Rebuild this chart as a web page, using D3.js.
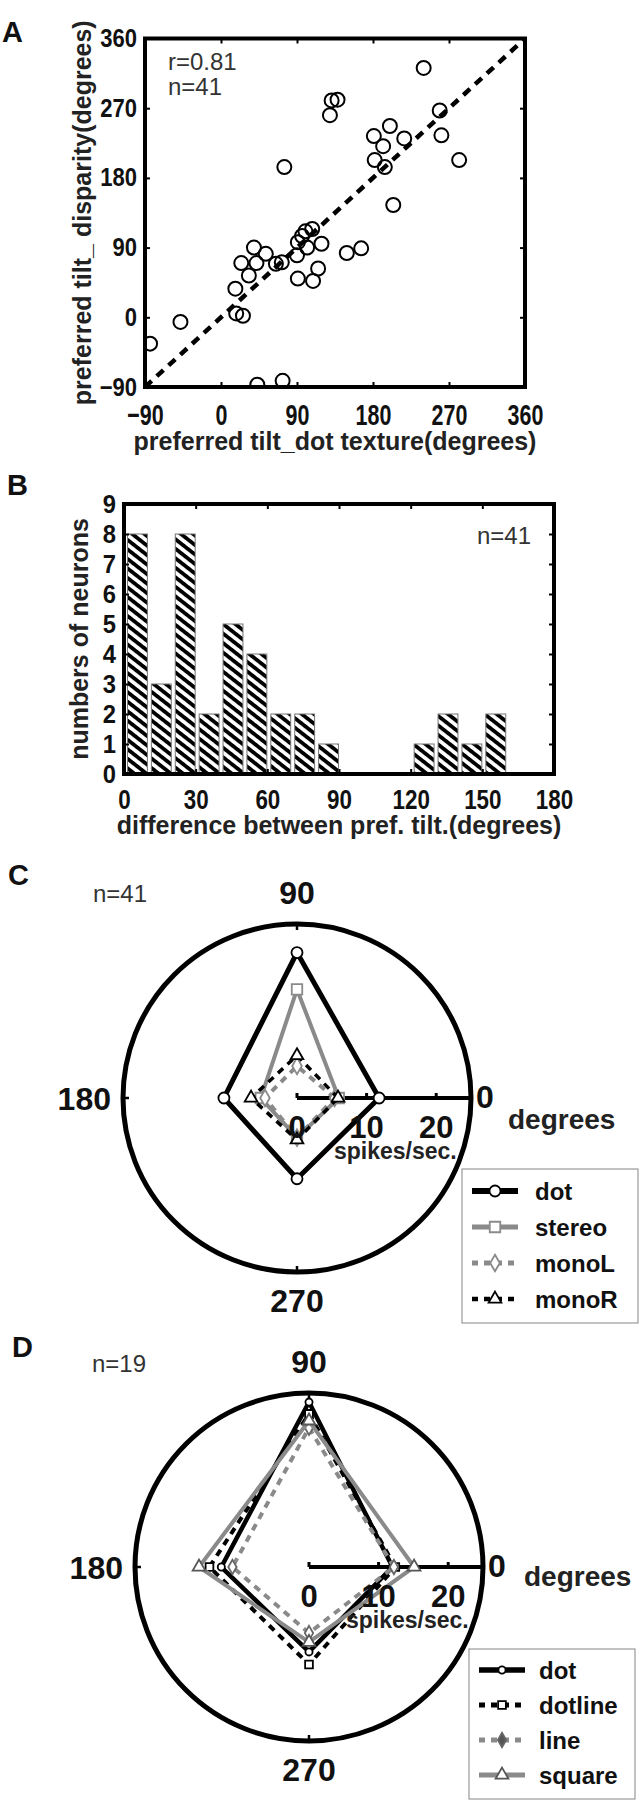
<!DOCTYPE html>
<html lang="en">
<head>
<meta charset="utf-8" />
<title>Preferred tilt figure</title>
<script src="https://cdn.jsdelivr.net/npm/d3@7"></script>
<style>
  body { margin: 0; background: #fff; }
  text { font-family: "Liberation Sans", Arial, sans-serif; }
</style>
</head>
<body>
<script>
// panel A: preferred tilt, dot texture (x) vs disparity (y), degrees
var tiltDot  = [-84, -48, 17, 18, 26, 24, 33, 39, 42, 53, 65, 72, 75, 43, 73,
                91, 90, 91, 100, 102, 108, 119, 115, 109, 96, 129, 131, 138, 149, 166,
                181, 182, 192, 194, 200, 204, 217, 240, 259, 261, 282];
var tiltDisp = [-34, -6, 37, 5, 2, 70, 54, 90, 70, 82, 69, 71, 194, -87, -82,
                97, 80, 50, 111, 90, 114, 95, 63, 47, 105, 261, 280, 281, 83, 89,
                234, 203, 221, 194, 247, 145, 231, 322, 267, 235, 203];
var tiltTicks = [-90, 0, 90, 180, 270, 360];

// panel B: histogram of difference between preferred tilts
var diffBins   = [0, 10, 20, 30, 40, 50, 60, 70, 80, 90, 100, 110, 120, 130, 140, 150, 160, 170];
var diffCounts = [8, 3, 8, 2, 5, 4, 2, 2, 1, 0, 0, 0, 1, 2, 1, 2, 0, 0];
var countTicks = [0, 1, 2, 3, 4, 5, 6, 7, 8, 9];
var diffTicks  = [0, 30, 60, 90, 120, 150, 180];

// panels C and D: mean response (spikes/sec) at each tilt
var polarAngles = [0, 90, 180, 270];
var radialTicks = [0, 10, 20];

var cNames  = ["dot", "stereo", "monoL", "monoR"];
var cDot    = [11.8, 20.9, 10.5, 11.6];
var cStereo = [6.0, 15.6, 5.2, 5.7];
var cMonoL  = [5.4, 4.6, 4.6, 5.7];
var cMonoR  = [5.9, 6.1, 6.6, 6.0];

var dNames   = ["dot", "dotline", "line", "square"];
var dDot     = [12.0, 23.7, 12.6, 12.2];
var dDotline = [12.4, 22.0, 14.3, 14.0];
var dLine    = [12.2, 20.0, 11.0, 9.5];
var dSquare  = [15.1, 21.0, 15.8, 10.8];

var w = 640, h = 1800;
var FONT = '"Liberation Sans", Arial, sans-serif';

var svg = d3.select("body").append("svg")
  .attr("width", w)
  .attr("height", h);

// hatch for the histogram bars
var defs = svg.append("defs");
defs.append("pattern")
  .attr("id", "hatch")
  .attr("patternUnits", "userSpaceOnUse")
  .attr("width", 7.5)
  .attr("height", 7.5)
  .attr("patternTransform", "rotate(38)")
  .append("rect")
  .attr("width", 7.5)
  .attr("height", 3.8)
  .attr("fill", "#000");

// squeeze text horizontally (the figure uses narrow bold digits)
function squeeze(sel, f) {
  sel.each(function () {
    var len = this.getComputedTextLength();
    d3.select(this)
      .attr("textLength", len * f)
      .attr("lengthAdjust", "spacingAndGlyphs");
  });
}

function styleAxis(g, size) {
  g.select(".domain").remove();
  g.selectAll(".tick line").attr("stroke", "#000").attr("stroke-width", 2);
  g.selectAll("text")
    .attr("font-family", FONT)
    .attr("font-weight", "bold")
    .attr("font-size", size)
    .attr("fill", "#111");
}

function label(x, y, txt, size, weight, anchor, fill) {
  return svg.append("text")
    .attr("x", x)
    .attr("y", y)
    .attr("font-size", size)
    .attr("font-weight", weight || "bold")
    .attr("text-anchor", anchor || "start")
    .attr("fill", fill || "#111")
    .text(txt);
}

// ---------------- A ----------------
var ax = d3.scaleLinear().domain([-90, 360]).range([145, 525]);
var ay = d3.scaleLinear().domain([-90, 360]).range([387, 38.5]);

svg.append("clipPath").attr("id", "clipA")
  .append("rect")
  .attr("x", ax(-90)).attr("y", ay(360))
  .attr("width", ax(360) - ax(-90)).attr("height", ay(-90) - ay(360));

var gA = svg.append("g").attr("clip-path", "url(#clipA)");

gA.append("line")
  .attr("x1", ax(-90)).attr("y1", ay(-90))
  .attr("x2", ax(360)).attr("y2", ay(360))
  .attr("stroke", "#000")
  .attr("stroke-width", 4.5)
  .attr("stroke-dasharray", "9,7");

gA.selectAll("circle")
  .data(tiltDot)
  .enter()
  .append("circle")
  .attr("cx", function (d) { return ax(d); })
  .attr("cy", function (d, i) { return ay(tiltDisp[i]); })
  .attr("r", 7)
  .attr("fill", "none")
  .attr("stroke", "#000")
  .attr("stroke-width", 2);

var axL = svg.append("g").attr("transform", "translate(" + ax(-90) + ",0)")
  .call(d3.axisLeft(ay).tickValues(tiltTicks).tickSizeInner(-5).tickSizeOuter(0).tickPadding(8));
styleAxis(axL, 25);
squeeze(axL.selectAll("text"), 0.88);

var axB = svg.append("g").attr("transform", "translate(0," + ay(-90) + ")")
  .call(d3.axisBottom(ax).tickValues(tiltTicks).tickSizeInner(-5).tickSizeOuter(0).tickPadding(17));
styleAxis(axB, 29);
squeeze(axB.selectAll("text"), 0.74);

svg.append("g").attr("transform", "translate(0," + ay(360) + ")")
  .call(d3.axisTop(ax).tickValues(tiltTicks).tickSizeInner(-5).tickSizeOuter(0).tickFormat(""))
  .call(styleAxis, 10);
svg.append("g").attr("transform", "translate(" + ax(360) + ",0)")
  .call(d3.axisRight(ay).tickValues(tiltTicks).tickSizeInner(-5).tickSizeOuter(0).tickFormat(""))
  .call(styleAxis, 10);

svg.append("rect")
  .attr("x", ax(-90)).attr("y", ay(360))
  .attr("width", ax(360) - ax(-90)).attr("height", ay(-90) - ay(360))
  .attr("fill", "none").attr("stroke", "#000").attr("stroke-width", 4);

label(2, 42, "A", 29);
label(168, 70, "r=0.81", 24, "normal", "start", "#333");
label(168, 95, "n=41", 24, "normal", "start", "#333");
label((ax(-90) + ax(360)) / 2, 450, "preferred tilt_dot texture(degrees)", 25, "bold", "middle", "#222");
label(0, 0, "preferred tilt_ disparity(degrees)", 25, "bold", "middle", "#222")
  .attr("transform", "translate(91," + (ay(-90) + ay(360)) / 2 + ") rotate(-90)");

// ---------------- B ----------------
var bx = d3.scaleLinear().domain([0, 180]).range([124, 554]);
var by = d3.scaleLinear().domain([0, 9]).range([774, 504]);
var binW = bx(10) - bx(0);

svg.append("g").selectAll("rect")
  .data(diffCounts)
  .enter()
  .append("rect")
  .attr("x", function (d, i) { return bx(diffBins[i]) + 3.5; })
  .attr("y", function (d) { return by(d); })
  .attr("width", binW - 4)
  .attr("height", function (d) { return by(0) - by(d); })
  .attr("fill", "url(#hatch)")
  .attr("stroke", function (d) { return d > 0 ? "#777" : "none"; })
  .attr("stroke-width", 1);

var bL = svg.append("g").attr("transform", "translate(" + bx(0) + ",0)")
  .call(d3.axisLeft(by).tickValues(countTicks).tickSizeInner(-5).tickSizeOuter(0).tickPadding(8));
styleAxis(bL, 25);
squeeze(bL.selectAll("text"), 0.95);

var bB = svg.append("g").attr("transform", "translate(0," + by(0) + ")")
  .call(d3.axisBottom(bx).tickValues(diffTicks).tickSizeInner(-5).tickSizeOuter(0).tickPadding(15));
styleAxis(bB, 28);
squeeze(bB.selectAll("text"), 0.8);

svg.append("g").attr("transform", "translate(0," + by(9) + ")")
  .call(d3.axisTop(bx).tickValues(diffTicks).tickSizeInner(-5).tickSizeOuter(0).tickFormat(""))
  .call(styleAxis, 10);
svg.append("g").attr("transform", "translate(" + bx(180) + ",0)")
  .call(d3.axisRight(by).tickValues(countTicks).tickSizeInner(-5).tickSizeOuter(0).tickFormat(""))
  .call(styleAxis, 10);

svg.append("rect")
  .attr("x", bx(0)).attr("y", by(9))
  .attr("width", bx(180) - bx(0)).attr("height", by(0) - by(9))
  .attr("fill", "none").attr("stroke", "#000").attr("stroke-width", 4);

label(7, 495, "B", 29);
label(477, 544, "n=41", 24, "normal", "start", "#333");
label((bx(0) + bx(180)) / 2, 834, "difference between pref. tilt.(degrees)", 25, "bold", "middle", "#222");
label(0, 0, "numbers of neurons", 25, "bold", "middle", "#222")
  .attr("transform", "translate(88," + (by(0) + by(9)) / 2 + ") rotate(-90)");

// ---------------- C and D (polar) ----------------
var rad = d3.scaleLinear().domain([0, 25]).range([0, 174]);

function toRad(a) { return (90 - a) * Math.PI / 180; }

var radial = d3.lineRadial()
  .angle(function (d) { return toRad(d.a); })
  .radius(function (d) { return rad(d.v); })
  .curve(d3.curveLinearClosed);

function drawPolar(p) {
  var g = svg.append("g").attr("transform", "translate(" + p.cx + "," + p.cy + ")");
  var R = rad(25);

  g.append("circle")
    .attr("r", R)
    .attr("fill", "none")
    .attr("stroke", "#000")
    .attr("stroke-width", 5);

  // small ticks on the circle
  g.selectAll(".ctick")
    .data(polarAngles)
    .enter()
    .append("line")
    .attr("x1", function (a) { return (R - 6) * Math.sin(toRad(a)); })
    .attr("y1", function (a) { return -(R - 6) * Math.cos(toRad(a)); })
    .attr("x2", function (a) { return R * Math.sin(toRad(a)); })
    .attr("y2", function (a) { return -R * Math.cos(toRad(a)); })
    .attr("stroke", "#000")
    .attr("stroke-width", 2.5);

  // radial axis along 0 degrees
  g.append("line")
    .attr("x1", rad(0)).attr("y1", 0)
    .attr("x2", R).attr("y2", 0)
    .attr("stroke", "#000")
    .attr("stroke-width", 4);
  g.selectAll(".rtick")
    .data(radialTicks)
    .enter()
    .append("line")
    .attr("x1", function (d) { return rad(d); })
    .attr("x2", function (d) { return rad(d); })
    .attr("y1", -5).attr("y2", 0)
    .attr("stroke", "#000")
    .attr("stroke-width", 3);

  p.series.forEach(function (s) {
    var pts = polarAngles.map(function (a, i) { return { a: a, v: s.values[i] }; });
    g.append("path")
      .attr("d", radial(pts))
      .attr("fill", "none")
      .attr("stroke", s.color)
      .attr("stroke-width", s.width)
      .attr("stroke-dasharray", s.dash || null)
      .attr("stroke-linejoin", "miter");
    g.selectAll(null)
      .data(pts)
      .enter()
      .append("path")
      .attr("transform", function (d) {
        var r = rad(d.v), t = toRad(d.a);
        return "translate(" + r * Math.sin(t) + "," + -r * Math.cos(t) + ")";
      })
      .attr("d", d3.symbol().type(s.symbol).size(s.size))
      .attr("fill", "#fff")
      .attr("stroke", s.mcolor || s.color)
      .attr("stroke-width", 1.8);
  });

  // angle labels
  var big = 32;
  g.append("text").attr("x", 0).attr("y", -R - 20).attr("text-anchor", "middle")
    .attr("font-size", big).attr("font-weight", "bold").attr("fill", "#111").text("90");
  g.append("text").attr("x", -R - 12).attr("y", 12).attr("text-anchor", "end")
    .attr("font-size", big).attr("font-weight", "bold").attr("fill", "#111").text("180");
  g.append("text").attr("x", R + 5).attr("y", 10)
    .attr("font-size", big).attr("font-weight", "bold").attr("fill", "#111").text("0");
  g.append("text").attr("x", 0).attr("y", R + 40).attr("text-anchor", "middle")
    .attr("font-size", big).attr("font-weight", "bold").attr("fill", "#111").text("270");
  g.append("text").attr("x", R + p.degDx).attr("y", p.degDy)
    .attr("font-size", 28).attr("font-weight", "bold").attr("fill", "#222").text("degrees");

  g.selectAll(".rlab")
    .data(radialTicks)
    .enter()
    .append("text")
    .attr("x", function (d) { return rad(d); })
    .attr("y", 40)
    .attr("text-anchor", "middle")
    .attr("font-size", 31)
    .attr("font-weight", "bold")
    .attr("fill", "#111")
    .text(function (d) { return d; });
  g.append("text").attr("x", 37).attr("y", 61)
    .attr("font-size", 23).attr("font-weight", "bold").attr("fill", "#222").text("spikes/sec.");

  // legend
  var lg = svg.append("g").attr("transform", "translate(" + p.legend.x + "," + p.legend.y + ")");
  lg.append("rect")
    .attr("width", p.legend.w).attr("height", p.legend.h)
    .attr("fill", "#fff").attr("stroke", "#999").attr("stroke-width", 1.2);
  p.series.forEach(function (s, i) {
    var yy = p.legend.top + i * p.legend.step;
    lg.append("line")
      .attr("x1", 10).attr("x2", 56).attr("y1", yy).attr("y2", yy)
      .attr("stroke", s.color).attr("stroke-width", s.width + 1)
      .attr("stroke-dasharray", s.dash ? "6,6" : null);
    lg.append("path")
      .attr("transform", "translate(33," + yy + ")")
      .attr("d", d3.symbol().type(s.symbol).size(s.size))
      .attr("fill", s.lfill || "#fff")
      .attr("stroke", s.mcolor || s.color)
      .attr("stroke-width", 1.8);
    lg.append("text")
      .attr("x", p.legend.tx).attr("y", yy + 9)
      .attr("font-size", 24).attr("font-weight", "bold").attr("fill", "#111")
      .text(s.name);
  });

  label(p.letter.x, p.letter.y, p.letter.t, 29);
  label(p.n.x, p.n.y, p.n.t, 24, "normal", "start", "#333");
}

drawPolar({
  cx: 297, cy: 1098, degDx: 37, degDy: 31,
  letter: { x: 8, y: 885, t: "C" },
  n: { x: 93, y: 902, t: "n=41" },
  legend: { x: 462, y: 1169, w: 176, h: 154, top: 22, step: 36, tx: 73 },
  series: [
    { name: cNames[0], values: cDot, color: "#000", width: 5, symbol: d3.symbolCircle, size: 95 },
    { name: cNames[1], values: cStereo, color: "#8a8a8a", width: 4, symbol: d3.symbolSquare, size: 110 },
    { name: cNames[2], values: cMonoL, color: "#8a8a8a", width: 4, dash: "7,6", symbol: d3.symbolDiamond, size: 80 },
    { name: cNames[3], values: cMonoR, color: "#000", width: 3.5, dash: "7,6", symbol: d3.symbolTriangle, size: 70 }
  ]
});

drawPolar({
  cx: 309, cy: 1567, degDx: 41, degDy: 19,
  letter: { x: 12, y: 1357, t: "D" },
  n: { x: 92, y: 1372, t: "n=19" },
  legend: { x: 469, y: 1649, w: 166, h: 150, top: 21, step: 35, tx: 70 },
  series: [
    { name: dNames[0], values: dDot, color: "#000", width: 4.5, symbol: d3.symbolCircle, size: 40 },
    { name: dNames[1], values: dDotline, color: "#000", width: 4, dash: "7,6", symbol: d3.symbolSquare, size: 60 },
    { name: dNames[2], values: dLine, color: "#8a8a8a", width: 4, dash: "7,6", symbol: d3.symbolDiamond, size: 60, mcolor: "#666", lfill: "#555" },
    { name: dNames[3], values: dSquare, color: "#8a8a8a", width: 4, symbol: d3.symbolTriangle, size: 70, mcolor: "#555" }
  ]
});
</script>
</body>
</html>
